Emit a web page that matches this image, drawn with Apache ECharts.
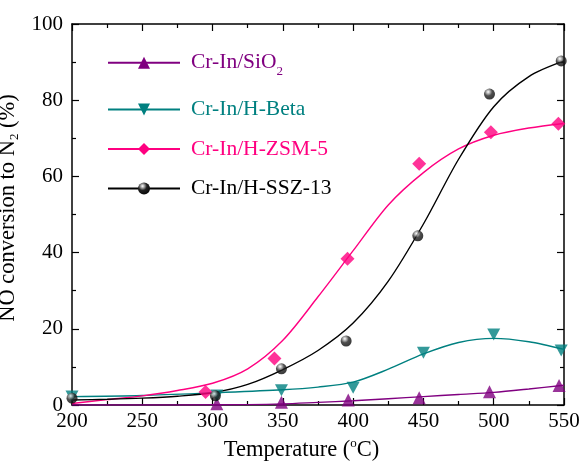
<!DOCTYPE html>
<html>
<head>
<meta charset="utf-8">
<script src="https://cdn.jsdelivr.net/npm/echarts@6/dist/echarts.min.js"></script>
<style>html,body{margin:0;padding:0;background:#fff}#c{width:582px;height:462px}</style>
</head>
<body>
<div id="c"></div>
<script>
// ---- data ----
var seriesNames = ['Cr-In/SiO2', 'Cr-In/H-Beta', 'Cr-In/H-ZSM-5', 'Cr-In/H-SSZ-13'];
var xTicks = [200, 250, 300, 350, 400, 450, 500, 550];
var yTicks = [0, 20, 40, 60, 80, 100];

// measured points [temperature, conversion]
var sio2Points  = [[303, 0.3], [349, 0.7], [396.5, 1.3], [447, 1.9], [497, 3.5], [546.5, 5.1]];
var betaPoints  = [[200, 2.2], [303, 2.5], [349, 3.9], [400, 4.5], [450, 13.7], [500, 18.5], [548, 14.3]];
var zsmPoints   = [[295, 3.4], [344, 12.2], [396, 38.4], [447, 63.3], [498, 71.6], [546, 73.8]];
var sszPoints   = [[200, 1.8], [302, 2.4], [349, 9.5], [395, 16.8], [446, 44.4], [497, 81.6], [548, 90.3]];

// fitted curves
var sio2CurveX = [200, 250, 300, 325, 350, 375, 400, 425, 450, 475, 500, 525, 550];
var sio2CurveY = [0, 0, 0.05, 0.1, 0.3, 0.7, 1.1, 1.65, 2.2, 2.75, 3.3, 4.2, 5.2];
var betaCurveX = [200, 250, 300, 350, 375, 400, 425, 450, 475, 500, 525, 550];
var betaCurveY = [2.2, 2.5, 3.2, 4.0, 4.7, 6.0, 9.4, 13.4, 16.4, 17.5, 16.6, 14.6];
var zsmCurveX  = [200, 225, 250, 275, 300, 325, 350, 375, 400, 425, 450, 475, 500, 525, 550];
var zsmCurveY  = [0.4, 1.4, 2.4, 3.8, 5.7, 9.5, 17, 28.4, 40.5, 52.5, 61, 67.2, 70.8, 72.7, 73.9];
var sszCurveX  = [200, 225, 250, 275, 300, 325, 350, 375, 400, 425, 450, 475, 500, 525, 550];
var sszCurveY  = [1.3, 1.5, 1.8, 2.3, 3.2, 5.4, 9.3, 14.3, 21.5, 32.5, 47.5, 64.5, 78.3, 86.2, 90.3];

function zip(xs, ys) { return xs.map(function (x, i) { return [x, ys[i]]; }); }

var FONT = 'Liberation Serif';
var cPurple = '#800080', cTeal = '#008080', cPink = '#FF0080', cBlack = '#000000';
var ball = {
  type: 'radial', x: 0.38, y: 0.3, r: 0.8,
  colorStops: [{ offset: 0, color: '#ffffff' }, { offset: 0.15, color: '#bbbbbb' }, { offset: 0.45, color: '#222222' }, { offset: 1, color: '#000000' }]
};

var styles = [
  { color: cPurple, symbol: 'triangle', size: 13, legendSize: 13, fill: cPurple, curve: zip(sio2CurveX, sio2CurveY), pts: sio2Points },
  { color: cTeal, symbol: 'path://M0,0 L10,0 L5,9 Z', size: [13, 12], legendSize: [13, 12], fill: cTeal, curve: zip(betaCurveX, betaCurveY), pts: betaPoints },
  { color: cPink, symbol: 'diamond', size: 14, legendSize: 13, fill: cPink, curve: zip(zsmCurveX, zsmCurveY), pts: zsmPoints },
  { color: cBlack, symbol: 'circle', size: 11, legendSize: 8, fill: ball, curve: zip(sszCurveX, sszCurveY), pts: sszPoints }
];

var series = [];
styles.forEach(function (s, i) {
  series.push({
    name: seriesNames[i], type: 'line', smooth: 0.3, showSymbol: false,
    symbol: s.symbol, symbolSize: s.legendSize,
    xAxisIndex: 0, yAxisIndex: 0,
    lineStyle: { color: s.color, width: 1.4 },
    itemStyle: { color: s.fill },
    data: s.curve, silent: true, z: 2 + i
  });
});
styles.forEach(function (s, i) {
  series.push({
    name: seriesNames[i], type: 'scatter', symbol: s.symbol, symbolSize: s.size,
    xAxisIndex: 0, yAxisIndex: 0, clip: false,
    itemStyle: { color: s.fill },
    data: s.pts, z: 10 + i
  });
});

function axisCommon(extra) {
  var base = {
    type: 'value',
    axisLine: { show: true, onZero: false, lineStyle: { color: '#000', width: 1.5 } },
    axisTick: { show: true, inside: true, length: 7, lineStyle: { color: '#000', width: 1.2 } },
    minorTick: { show: true, splitNumber: 2, length: 4, lineStyle: { color: '#000', width: 1.2 } },
    splitLine: { show: false },
    axisLabel: { show: true, color: '#000', fontFamily: FONT, fontSize: 21 }
  };
  for (var k in extra) base[k] = extra[k];
  return base;
}

var legendText = {
  fontFamily: FONT, fontSize: 21.5, lineHeight: 30, padding: [0, 0, 0, 6],
  rich: { sub: { fontFamily: FONT, fontSize: 13, lineHeight: 2, verticalAlign: 'bottom' } }
};
function legendData(idx) {
  return idx.map(function (i) { return { name: seriesNames[i], textStyle: { color: styles[i].color } }; });
}

var chart = echarts.init(document.getElementById('c'), null, { renderer: 'canvas' });
chart.setOption({
  animation: false,
  backgroundColor: '#fff',
  textStyle: { fontFamily: FONT },
  grid: { left: 72, right: 18, top: 24, bottom: 57, containLabel: false, outerBoundsMode: 'none' },
  legend: [
    {
      orient: 'vertical', left: 107, top: 47.7, padding: 0,
      itemWidth: 72, itemHeight: 15, itemGap: 9.5, selectedMode: false,
      data: legendData([0]),
      formatter: function (n) { return n === 'Cr-In/SiO2' ? 'Cr-In/SiO{sub|2}' : n; },
      textStyle: legendText
    },
    {
      orient: 'vertical', left: 107, top: 94.5, padding: 0,
      itemWidth: 72, itemHeight: 15, itemGap: 9.5, selectedMode: false,
      data: legendData([1, 2, 3]),
      textStyle: legendText
    }
  ],
  xAxis: [
    axisCommon({
      position: 'bottom', min: xTicks[0], max: xTicks[xTicks.length - 1], interval: 50,
      axisLabel: { show: true, color: '#000', fontFamily: FONT, fontSize: 21, margin: 6 },
      name: 'Temperature ({sup|o}C)', nameLocation: 'middle', nameGap: 29.5,
      nameTextStyle: {
        color: '#000', fontFamily: FONT, fontSize: 22.5, lineHeight: 26, padding: [0, 33, 0, 0],
        rich: { sup: { fontFamily: FONT, fontSize: 13, lineHeight: 8, verticalAlign: 'top' } }
      }
    }),
    axisCommon({
      position: 'top', min: xTicks[0], max: xTicks[xTicks.length - 1], interval: 50,
      axisLabel: { show: false }
    })
  ],
  yAxis: [
    axisCommon({
      position: 'left', min: yTicks[0], max: yTicks[yTicks.length - 1], interval: 20,
      axisLabel: { show: true, color: '#000', fontFamily: FONT, fontSize: 21, margin: 9 },
      name: 'NO conversion to N{sub|2} (%)', nameLocation: 'middle', nameRotate: 90, nameGap: 38,
      nameTextStyle: {
        color: '#000', fontFamily: FONT, fontSize: 22.5, lineHeight: 26, padding: [0, 0, 0, 13],
        rich: { sub: { fontFamily: FONT, fontSize: 13, lineHeight: 10, verticalAlign: 'bottom' } }
      }
    }),
    axisCommon({
      position: 'right', min: yTicks[0], max: yTicks[yTicks.length - 1], interval: 20,
      axisLabel: { show: false }
    })
  ],
  series: series
});
</script>
</body>
</html>
